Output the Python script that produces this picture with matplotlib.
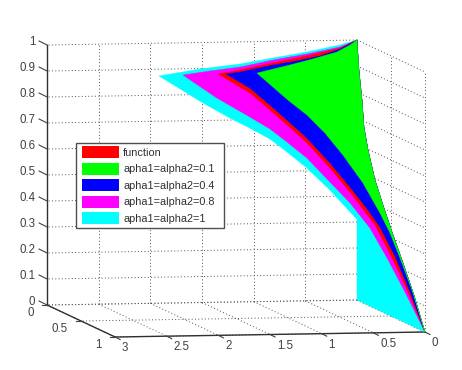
import matplotlib
matplotlib.use("Agg")
import matplotlib.pyplot as plt
from matplotlib.patches import Patch, Polygon, Rectangle
from matplotlib.legend_handler import HandlerPatch
import numpy as np

plt.rcParams['font.family'] = ['Liberation Sans', 'DejaVu Sans']

# Shared edge on the x = 0 wall
edge_y = [0, .029, .074, .103, .162, .265, .382, .515, .662, .838, 1]
edge_z = [1, .888, .778, .678, .597, .494, .412, .325, .235, .122, 0]

# Each outline runs peak -> tip -> lower curve
cyan_x = [0, 0.165, 0.484, 0.813, 1.133, 1.52, 1.917, 1.603, 1.407, 1.26, 1.119, 0.994, 0.853, 0.683, 0.542, 0, 0]
cyan_y = [0, 0, 0, 0, 0, 0, 0, 0.17, 0.27, 0.34, 0.42, 0.48, 0.56, 0.64, 0.72, 0, 0]
cyan_z = [1, 0.982, 0.957, 0.936, 0.915, 0.898, 0.874, 0.789, 0.742, 0.711, 0.678, 0.635, 0.582, 0.506, 0.431, 0.31, 0]

magenta_x = [0, .165, .484, .813, 1.133, 1.423, 1.684, 1.447, 1.22, 1.079, .961, .82, .663, .522, .381, .262, .141]
magenta_y = [0, 0, 0, 0, 0, 0, 0, .14, .28, .36, .43, .51, .61, .69, .77, .84, .92]
magenta_z = [1, .974, .949, .928, .903, .890, .876, .803, .746, .709, .667, .614, .533, .462, .374, .267, .145]

red_x = [0, .165, .484, .813, 1.133, 1.346, 1.135, 1.007, .895, .767, .617, .489, .326, .214, .112]
red_y = [0, 0, 0, 0, 0, 0, .15, .25, .33, .43, .54, .64, .76, .84, .92]
red_z = [1, .970, .942, .917, .892, .878, .822, .768, .720, .662, .578, .497, .384, .267, .145]

blue_x = [0, 0.165, 0.358, 0.581, 0.813, 1.133, 1.268, 1.115, 0.987, 0.882, 0.754, 0.604, 0.476, .383, .285, .192, .099]
blue_y = [0, 0, 0, 0, 0, 0, 0, 0.12, 0.22, 0.31, 0.41, 0.52, 0.62, .70, .77, .85, .93]
blue_z = [1, 0.966, 0.941, 0.923, 0.909, 0.884, 0.877, 0.837, 0.783, 0.736, 0.678, 0.595, 0.514, .45, .377, .275, .146]

green_x = [0, 0.068, 0.194, 0.426, 0.649, 0.968, 0.786, 0.682, 0.573, 0.471, 0.357, 0.258, .2, .143, .073]
green_y = [0, 0, 0, 0, 0, 0, 0.18, 0.3, 0.4, 0.51, 0.63, 0.73, .79, .85, .92]
green_z = [1, 0.981, 0.955, 0.93, 0.908, 0.879, 0.796, 0.753, 0.695, 0.623, 0.53, 0.426, .356, .267, .152]

series_labels = ['function', 'apha1=alpha2=0.1', 'apha1=alpha2=0.4',
                 'apha1=alpha2=0.8', 'apha1=alpha2=1']
series_colors = ['#ff0000', '#00ff00', '#0000ff', '#ff00ff', '#00ffff']

x_ticks = [0, .5, 1, 1.5, 2, 2.5, 3]
y_ticks = [0, .5, 1]
z_ticks = [0, .1, .2, .3, .4, .5, .6, .7, .8, .9, 1]
x_tick_labels = ['0', '0.5', '1', '1.5', '2', '2.5', '3']
y_tick_labels = ['0', '0.5', '1']
z_tick_labels = ['0', '0.1', '0.2', '0.3', '0.4', '0.5', '0.6', '0.7', '0.8', '0.9', '1']

# Fixed view of the 3-D box
def project(x, y, z):
    x, y, z = map(lambda a: np.asarray(a, float), (x, y, z))
    return 357 - 103.3 * x + 68 * y, 300 + 1.67 * x + 32 * y - 260 * z

fig = plt.figure(figsize=(4.62, 3.70), dpi=100)
ax = fig.add_axes([0, 0, 1, 1])
ax.set_xlim(0, 462)
ax.set_ylim(370, 0)
ax.axis('off')

GRID = dict(color='#505050', lw=0.7, ls=(0, (1, 2.4)), zorder=1)

def line3(p0, p1, **kw):
    a = project(*p0)
    b = project(*p1)
    ax.plot([a[0], b[0]], [a[1], b[1]], **kw)

for xt in x_ticks:
    line3((xt, 0, 0), (xt, 0, 1), **GRID)
    line3((xt, 0, 0), (xt, 1, 0), **GRID)
for yt in y_ticks:
    line3((0, yt, 0), (0, yt, 1), **GRID)
    line3((0, yt, 0), (3, yt, 0), **GRID)
for zt in z_ticks:
    line3((0, 0, zt), (3, 0, zt), **GRID)
    line3((0, 0, zt), (0, 1, zt), **GRID)

def fill_surface(xs, ys, zs, color, z):
    ex = np.zeros(len(edge_y))
    px, py = project(np.r_[xs, ex[::-1]], np.r_[ys, edge_y[::-1]], np.r_[zs, edge_z[::-1]])
    ax.add_patch(Polygon(np.c_[px, py], closed=True, fc=color, ec=color, lw=0.3, zorder=z))

fill_surface(cyan_x, cyan_y, cyan_z, series_colors[4], 3)
fill_surface(magenta_x, magenta_y, magenta_z, series_colors[3], 4)
fill_surface(red_x, red_y, red_z, series_colors[0], 5)
fill_surface(blue_x, blue_y, blue_z, series_colors[2], 6)
fill_surface(green_x, green_y, green_z, series_colors[1], 7)

AXIS = dict(color='#303030', lw=1.0, zorder=2)
line3((3, 0, 0), (3, 0, 1), **AXIS)
line3((3, 0, 0), (3, 1, 0), **AXIS)
line3((3, 1, 0), (0, 1, 0), **AXIS)

TXT = dict(fontsize=8.3, color='#404040')
for zt, lab in zip(z_ticks, z_tick_labels):
    px, py = project(3, 0, zt)
    ax.plot([px, px - 8], [py, py - 4], color='#404040', lw=0.8, zorder=2)
    ax.annotate(lab, (px, py), xytext=(-8.6, 2), textcoords='offset points',
                ha='right', va='center', **TXT)
for xt, lab in zip(x_ticks, x_tick_labels):
    px, py = project(xt, 1, 0)
    ax.plot([px, px + 5], [py, py + 2.5], color='#404040', lw=0.8, zorder=2)
    ax.annotate(lab, (px, py), xytext=(5, -8), textcoords='offset points',
                ha='left', va='center', **TXT)
for yt, lab in zip(y_ticks, y_tick_labels):
    px, py = project(3, yt, 0)
    ax.plot([px, px - 5], [py, py], color='#404040', lw=0.8, zorder=2)
    ax.annotate(lab, (px, py), xytext=(-9.4, -5.8), textcoords='offset points',
                ha='right', va='center', **TXT)

def legend_swatch(legend, orig_handle, xdescent, ydescent, width, height, fontsize):
    return Rectangle((2.0 - xdescent, -ydescent), width - 2.0, height)

handles = [Patch(fc=c, ec=c, lw=0) for c in series_colors]
leg = ax.legend(handles, series_labels, loc='upper left', mode='expand',
                bbox_to_anchor=(76 / 462, 1 - 228 / 370, 148 / 462, 85 / 370),
                bbox_transform=ax.transAxes,
                handler_map={Patch: HandlerPatch(patch_func=legend_swatch)},
                fontsize=7.8, fancybox=False, framealpha=1, edgecolor='#505050',
                borderaxespad=0, borderpad=0.3, handlelength=3.67, handleheight=1.35,
                handletextpad=0.37, labelspacing=0.40, labelcolor='#303030')
leg.get_frame().set_linewidth(1.0)
leg.set_zorder(10)

fig.savefig('out.png', dpi=100)
